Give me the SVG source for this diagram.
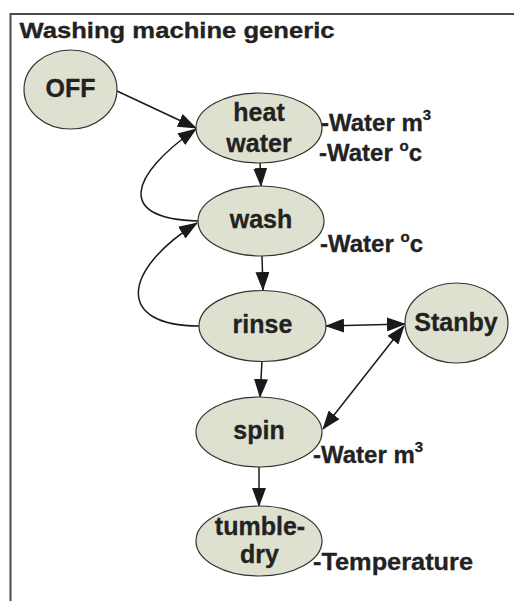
<svg xmlns="http://www.w3.org/2000/svg" width="514" height="601" viewBox="0 0 514 601">
<style>
.node{fill:#dee1cf;stroke:#333;stroke-width:1.2}
.lbl{font-family:"Liberation Sans",Arial,sans-serif;font-weight:bold;font-size:25px;fill:#222;stroke:#222;stroke-width:0.3;text-anchor:middle}
.ann{font-family:"Liberation Sans",Arial,sans-serif;font-weight:bold;font-size:24px;fill:#222;stroke:#222;stroke-width:0.3}
.sup{font-size:15px}
.edge{fill:none;stroke:#1a1a1a;stroke-width:1.5;marker-end:url(#ah)}
.both{marker-start:url(#ah)}
</style>
<defs>
<marker id="ah" markerUnits="userSpaceOnUse" markerWidth="19" markerHeight="14" refX="18" refY="7" orient="auto-start-reverse" viewBox="0 0 19 14">
<path d="M0,0 L19,7 L0,14 z" fill="#1a1a1a"/>
</marker>
</defs>
<rect width="514" height="601" fill="#fff"/>
<path d="M10.5,601 V14 H514" fill="none" stroke="#4a4a4a" stroke-width="2"/>
<text x="19.5" y="38" font-family="'Liberation Sans',Arial,sans-serif" font-weight="bold" font-size="22" fill="#222" stroke="#222" stroke-width="0.3" textLength="315" lengthAdjust="spacingAndGlyphs">Washing machine generic</text>
<g id="connectors">
<path class="edge" d="M117,91 L196,128"/>
<path class="edge" d="M198,221 C115,219 130,175 196,129"/>
<path class="edge" d="M199,326 C115,326 122,270 197,223"/>
<path class="edge" d="M260,163 L261,186"/>
<path class="edge" d="M262,256 L263,290"/>
<path class="edge" d="M262,361 L260,397"/>
<path class="edge" d="M259,467 L259,506"/>
<path class="edge both" d="M326,326 L405,324"/>
<path class="edge both" d="M404,326 L323,429"/>
</g>
<g id="off"><ellipse class="node" cx="70.5" cy="89.5" rx="46.5" ry="39.5"/><text class="lbl" x="70.5" y="97">OFF</text></g>
<g id="heat-water"><ellipse class="node" cx="259" cy="128" rx="63" ry="35"/><text class="lbl" x="259" y="121">heat</text><text class="lbl" x="259" y="152">water</text></g>
<g id="wash"><ellipse class="node" cx="261" cy="221" rx="63" ry="35"/><text class="lbl" x="261" y="228">wash</text></g>
<g id="rinse"><ellipse class="node" cx="262.5" cy="326" rx="63.5" ry="35.5"/><text class="lbl" x="262.5" y="333">rinse</text></g>
<g id="stanby"><ellipse class="node" cx="456.5" cy="323" rx="51.5" ry="40"/><text class="lbl" x="456" y="331">Stanby</text></g>
<g id="spin"><ellipse class="node" cx="259" cy="432" rx="63" ry="35"/><text class="lbl" x="259" y="439">spin</text></g>
<g id="tumble-dry"><ellipse class="node" cx="259" cy="541" rx="63" ry="35"/><text class="lbl" x="260" y="535">tumble-</text><text class="lbl" x="259.5" y="563">dry</text></g>
<g id="annotations">
<text class="ann" x="321" y="131">-Water m<tspan class="sup" dy="-11">3</tspan></text>
<text class="ann" x="319" y="161">-Water <tspan class="sup" dy="-10">o</tspan><tspan dy="10">c</tspan></text>
<text class="ann" x="320" y="252">-Water <tspan class="sup" dy="-10">o</tspan><tspan dy="10">c</tspan></text>
<text class="ann" x="313" y="463">-Water m<tspan class="sup" dy="-11">3</tspan></text>
<text class="ann" x="313" y="570" textLength="160" lengthAdjust="spacingAndGlyphs">-Temperature</text>
</g>
</svg>
